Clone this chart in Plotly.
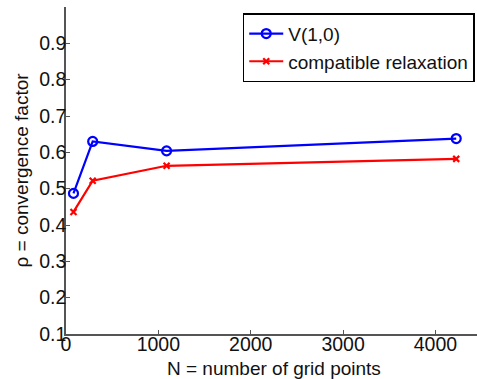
import plotly.graph_objects as go

N = [81, 289, 1089, 4225]
v10 = [0.487, 0.630, 0.604, 0.638]
compat = [0.436, 0.522, 0.563, 0.582]
yticks = [0.1, 0.2, 0.3, 0.4, 0.5, 0.6, 0.7, 0.8, 0.9]
xticks = [0, 1000, 2000, 3000, 4000]

fig = go.Figure()
fig.add_trace(go.Scatter(x=N, y=v10, mode="lines+markers", name="V(1,0)",
                         line=dict(color="#0000ff", width=2.2),
                         marker=dict(symbol="circle-open", size=9, color="#0000ff",
                                     line=dict(width=2.2))))
fig.add_trace(go.Scatter(x=N, y=compat, mode="lines+markers", name="compatible relaxation",
                         line=dict(color="#ff0000", width=2.2),
                         marker=dict(symbol="x-thin-open", size=6, color="#ff0000",
                                     line=dict(width=2.2, color="#ff0000"))))

fam = "Liberation Sans, Arial, Helvetica, sans-serif"
font = dict(family=fam, size=19, color="#111")
L, T, B, W, H = 66, 7, 45, 477, 379
plot_w = W - L
plot_h = H - T - B

fig.update_layout(
    width=W, height=H,
    margin=dict(l=L, r=0, t=T, b=B),
    paper_bgcolor="white", plot_bgcolor="white",
    font=font,
    showlegend=True,
    legend=dict(x=0.43, y=0.981, xanchor="left", yanchor="top",
                bordercolor="black", borderwidth=1.5, bgcolor="white",
                font=dict(size=19), tracegroupgap=0, itemwidth=34),
    xaxis=dict(range=[0, 4450], tickvals=xticks, ticktext=[str(t) for t in xticks],
               showgrid=False, zeroline=False, showline=True, linecolor="#555", linewidth=1.5,
               ticks="inside", ticklen=4, tickcolor="#555", automargin=False,
               tickfont=dict(size=19.5), ticklabelstandoff=-8),
    yaxis=dict(range=[0.1, 1.0], tickvals=yticks, ticktext=[f"{t:.1f}" for t in yticks],
               showgrid=False, zeroline=False, showline=True, linecolor="#555", linewidth=1.5,
               ticks="inside", ticklen=4, tickcolor="#555", automargin=False,
               tickfont=dict(size=19.5), ticklabelstandoff=-6),
    annotations=[
        dict(text="N = number of grid points", xref="paper", yref="paper",
             x=(274 - L) / plot_w, y=(H - B - 368) / plot_h,
             showarrow=False, font=dict(family=fam, size=19, color="#111"),
             xanchor="center", yanchor="middle"),
        dict(text="ρ = convergence factor", xref="paper", yref="paper",
             x=(21 - L) / plot_w, y=(H - B - 170.5) / plot_h, textangle=-90,
             showarrow=False, font=dict(family=fam, size=19, color="#111"),
             xanchor="center", yanchor="middle"),
    ],
)
fig.write_html("out.html", config={"displayModeBar": False},
               post_script="document.body.style.margin='0';document.body.style.overflow='hidden';")
